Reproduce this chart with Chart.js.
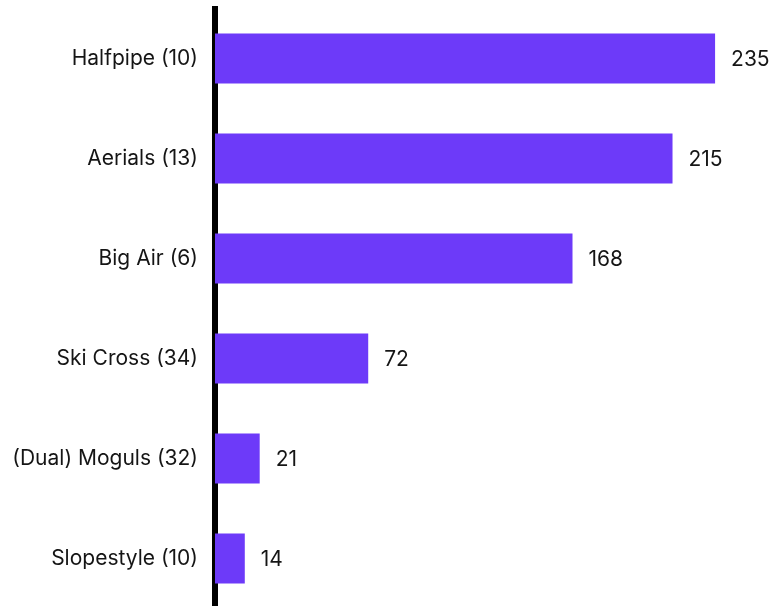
<!DOCTYPE html>
<html>
<head>
<meta charset="utf-8">
<script src="https://cdn.jsdelivr.net/npm/chart.js@4"></script>
<style>
    html, body { margin: 0; padding: 0; background: #fff; overflow: hidden; }
    #wrap { position: absolute; left: 0; top: 0; width: 776px; height: 612px; }
</style>
</head>
<body>
<div id="wrap"><canvas id="eventChart"></canvas></div>
<script>
// Freestyle skiing disciplines (number of events) and their totals
const disciplines = ['Halfpipe (10)', 'Aerials (13)', 'Big Air (6)', 'Ski Cross (34)', '(Dual) Moguls (32)', 'Slopestyle (10)'];
const totals = [235, 215, 168, 72, 21, 14];

const barColor = '#6d3af9';
const textColor = '#151515';
const fontSize = 21;

// Draws the value just to the right of each bar
const valueLabels = {
    id: 'valueLabels',
    afterDatasetsDraw(chart) {
        const ctx = chart.ctx;
        const meta = chart.getDatasetMeta(0);
        ctx.save();
        ctx.font = fontSize + 'px Inter';
        ctx.fillStyle = textColor;
        ctx.textAlign = 'left';
        ctx.textBaseline = 'middle';
        meta.data.forEach((bar, i) => {
            ctx.fillText(String(totals[i]), bar.x + 16, bar.y + 1);
        });
        ctx.restore();
    }
};

const ctx = document.getElementById('eventChart').getContext('2d');
new Chart(ctx, {
    type: 'bar',
    data: {
        labels: disciplines,
        datasets: [{
            data: totals,
            backgroundColor: barColor,
            borderWidth: 0,
            barPercentage: 0.5,
            categoryPercentage: 1
        }]
    },
    options: {
        indexAxis: 'y',
        responsive: true,
        maintainAspectRatio: false,
        animation: false,
        layout: { padding: { top: 8.5, bottom: 3.5, left: 0, right: 29 } },
        plugins: {
            legend: { display: false },
            tooltip: { enabled: false }
        },
        scales: {
            x: {
                display: false,
                min: 0,
                max: 250
            },
            y: {
                afterFit(scale) {
                    // fixed label column, no extra room above/below for tick text
                    scale.width = 215;
                    scale.paddingTop = 0;
                    scale.paddingBottom = 0;
                },
                grid: { display: false, drawTicks: false },
                border: { display: true, color: '#000', width: 6 },
                ticks: {
                    padding: 17,
                    color: textColor,
                    font: { family: 'Inter', size: fontSize }
                }
            }
        }
    },
    plugins: [valueLabels]
});
</script>
</body>
</html>
